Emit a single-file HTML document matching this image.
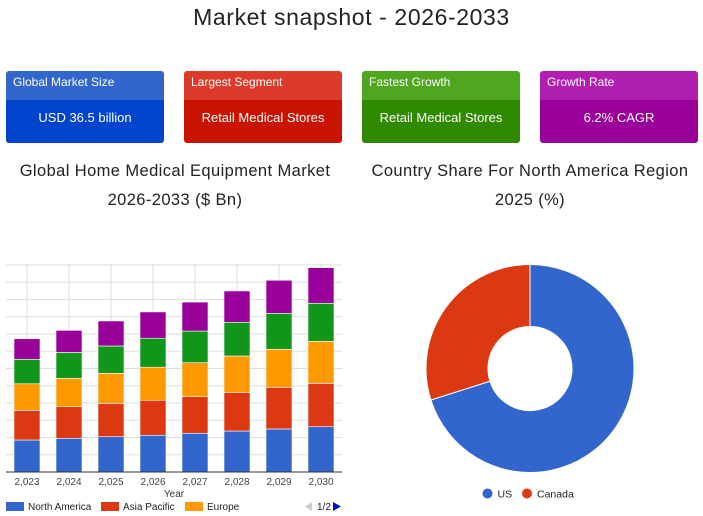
<!DOCTYPE html>
<html><head><meta charset="utf-8">
<style>
body{margin:0;width:703px;height:516px;background:#fff;font-family:"Liberation Sans",sans-serif;position:relative;overflow:hidden;color:#222}
.t{position:absolute;left:0;width:703px;text-align:center;top:4px;font-size:23px;color:#222;letter-spacing:0.6px}
.card{position:absolute;top:71px;width:158px;height:72px;border-radius:3px;overflow:hidden;color:#fff}
.card .h{height:29px;font-size:12px;line-height:23px;padding-left:7px}
.card .v{height:43px;font-size:13px;line-height:36px;text-align:center}
.sub{position:absolute;font-size:16.5px;text-align:center;line-height:29px;color:#222;letter-spacing:0.4px}
</style></head><body>
<div class="t">Market snapshot - 2026-2033</div>
<div class="card" style="left:6px"><div class="h" style="background:#3366cc">Global Market Size</div><div class="v" style="background:#0044cc">USD 36.5 billion</div></div>
<div class="card" style="left:184px"><div class="h" style="background:#dc3b2a">Largest Segment</div><div class="v" style="background:#c81400">Retail Medical Stores</div></div>
<div class="card" style="left:362px"><div class="h" style="background:#4ea71f">Fastest Growth</div><div class="v" style="background:#2f8a00">Retail Medical Stores</div></div>
<div class="card" style="left:540px"><div class="h" style="background:#b01fb0">Growth Rate</div><div class="v" style="background:#990099">6.2% CAGR</div></div>
<div class="sub" style="left:0;width:350px;top:157px">Global Home Medical Equipment Market<br>2026-2033 ($ Bn)</div>
<div class="sub" style="left:355px;width:350px;top:157px">Country Share For North America Region<br>2025 (%)</div>
<svg id="bar" width="350" height="516" style="position:absolute;left:0;top:0"></svg>
<svg id="pie" width="703" height="516" style="position:absolute;left:0;top:0;pointer-events:none"></svg>
<script>
const years=["2,023","2,024","2,025","2,026","2,027","2,028","2,029","2,030"];
const northAmerica=[3.71,3.91,4.09,4.26,4.49,4.75,4.99,5.25];
const asiaPacific=[3.44,3.66,3.87,4.06,4.24,4.49,4.83,5.03];
const europe=[3.08,3.29,3.48,3.83,3.94,4.21,4.41,4.87];
const latinAmerica=[2.83,3.01,3.17,3.36,3.67,3.91,4.17,4.41];
const mea=[2.39,2.55,2.9,3.05,3.36,3.63,3.83,4.13];
const seriesColors=["#3366cc","#dc3912","#ff9900","#109618","#990099"];
const countries=["US","Canada"];
const shares=[70.1,29.9];
const pieColors=["#3366cc","#dc3912"];
const NS="http://www.w3.org/2000/svg";
function mk(p,t,a){const e=document.createElementNS(NS,t);for(const k in a)e.setAttribute(k,a[k]);p.appendChild(e);return e;}
const bar=document.getElementById('bar');
const x0=6,x1=342,yTop=265,yBot=472,yMax=24;
const yS=v=>yBot-v*(yBot-yTop)/yMax;
const step=(x1-x0)/years.length;
const xC=i=>x0+step*(i+0.5);
for(let g=0;g<=12;g++){const y=yS(g*2);const l=mk(bar,'line',{x1:x0,x2:x1,y1:y,y2:y,stroke:'#ddd','stroke-width':1});

}
years.forEach((yr,i)=>{const l=mk(bar,'line',{x1:xC(i),x2:xC(i),y1:yTop,y2:yBot,stroke:'#ddd','stroke-width':1});

});
const series=[northAmerica,asiaPacific,europe,latinAmerica,mea];
years.forEach((yr,i)=>{let acc=0;series.forEach((s,k)=>{const y1=yS(acc),y2=yS(acc+s[i]);acc+=s[i];
const r=mk(bar,'rect',{x:xC(i)-13,y:y2,width:26,height:y1-y2,fill:seriesColors[k],stroke:'#fff','stroke-width':0.6});

});
const t=mk(bar,'text',{x:xC(i),y:485,'text-anchor':'middle','font-size':10,fill:'#444'});t.textContent=yr;

});
mk(bar,'line',{x1:x0,x2:x1,y1:yBot,y2:yBot,stroke:'#333','stroke-width':1});
const xt=mk(bar,'text',{x:174,y:497,'text-anchor':'middle','font-size':10,fill:'#333'});xt.textContent='Year';


const leg=[["North America",6],["Asia Pacific",101],["Europe",185]];
leg.forEach((l,k)=>{mk(bar,'rect',{x:l[1],y:502,width:18,height:9,fill:seriesColors[k]});
const t=mk(bar,'text',{x:l[1]+22,y:510,'font-size':10,fill:'#222'});t.textContent=l[0];

});
mk(bar,'path',{d:'M312 502 L312 511 L305 506.5Z',fill:'#ccc'});
const pg=mk(bar,'text',{x:317,y:510,'font-size':10,fill:'#222'});pg.textContent='1/2';


mk(bar,'path',{d:'M333 502 L333 511 L341 506.5Z',fill:'#0011cc'});
const pie=document.getElementById('pie');
const cx=530,cy=368.5,R=104,r0=42;
const total=shares.reduce((a,b)=>a+b,0);let a0=0;
shares.forEach((v,k)=>{const a1=a0+v/total*2*Math.PI;
const p=(a,rr)=>[cx+rr*Math.sin(a),cy-rr*Math.cos(a)];
const [ax,ay]=p(a0,R),[bx,by]=p(a1,R),[cx2,cy2]=p(a1,r0),[dx,dy]=p(a0,r0);const lg=(a1-a0)>Math.PI?1:0;
const s=mk(pie,'path',{d:`M${ax} ${ay} A${R} ${R} 0 ${lg} 1 ${bx} ${by} L${cx2} ${cy2} A${r0} ${r0} 0 ${lg} 0 ${dx} ${dy}Z`,fill:pieColors[k],stroke:'#fff','stroke-width':1});

a0=a1;});
const pl=[[487.5,"US"],[527,"Canada"]];
pl.forEach((l,k)=>{mk(pie,'circle',{cx:l[0],cy:493.5,r:5,fill:pieColors[k]});
const t=mk(pie,'text',{x:l[0]+10,y:497.5,'font-size':10.5,fill:'#222'});t.textContent=countries[k];

});
</script>
</body></html>
